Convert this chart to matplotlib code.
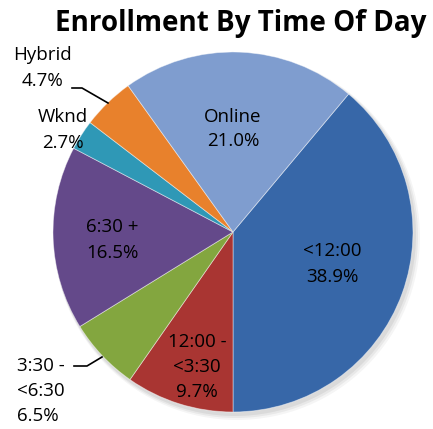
import matplotlib.pyplot as plt
from matplotlib.patches import Circle

# slice data, clockwise from the <12:00 slice
labels = ["<12:00", "12:00 -\n<3:30", "3:30 -\n<6:30", "6:30 +", "Wknd", "Hybrid", "Online"]
shares = [38.9, 9.7, 6.5, 16.5, 2.7, 4.7, 21.0]
colors = ["#3767a8", "#a93532", "#83a63f", "#64498a", "#2f98b6", "#e8812c", "#7f9dcf"]

plt.rcParams["font.family"] = ["Open Sans", "DejaVu Sans"]

fig = plt.figure(figsize=(4.33, 4.29), dpi=100)
ax = fig.add_axes([0, 0, 1, 1])

cx, cy, r = 233, 197, 180

# soft shadow under the pie
for i, a in enumerate([0.06, 0.05, 0.04]):
    ax.add_patch(Circle((cx + 2 + i, cy - 3 - i), r + 1 + i, color="black", alpha=a, lw=0, zorder=0))

start = -90 + shares[0] / 100 * 360
ax.pie(shares, colors=colors, startangle=start, counterclock=False,
       center=(cx, cy), radius=r, frame=True,
       wedgeprops=dict(linewidth=0.6, edgecolor=(1, 1, 1, 0.5)))
ax.set_xlim(0, 433)
ax.set_ylim(0, 429)
ax.set_aspect("equal")
ax.axis("off")

fs = 13.5
ls = 1.5
H = 429
ax.text(233, H - 129, "Online\n21.0%", ha="center", va="center", fontsize=fs, linespacing=ls)
ax.text(332, H - 264, "<12:00\n38.9%", ha="center", va="center", fontsize=fs, linespacing=ls)
ax.text(197, H - 367, "12:00 -\n<3:30\n9.7%", ha="center", va="center", fontsize=fs, linespacing=ls)
ax.text(112, H - 240, "6:30 +\n16.5%", ha="center", va="center", fontsize=fs, linespacing=ls)
ax.text(63, H - 130, "Wknd\n2.7%", ha="center", va="center", fontsize=fs, linespacing=ls)
ax.text(42, H - 68, "Hybrid\n4.7%", ha="center", va="center", fontsize=fs, linespacing=ls)
ax.text(17, H - 391, "3:30 -\n<6:30\n6.5%", ha="left", va="center", fontsize=fs, linespacing=ls)

# leader lines
ax.plot([72, 82, 108], [H - 88, H - 88, H - 103], color="black", lw=1.2)
ax.plot([74, 87, 102], [H - 366, H - 366, H - 357], color="black", lw=1.2)

ax.text(241, H - 24, "Enrollment By Time Of Day", ha="center", va="center",
        fontsize=20, fontweight="bold")

fig.savefig("out.png", dpi=100)
